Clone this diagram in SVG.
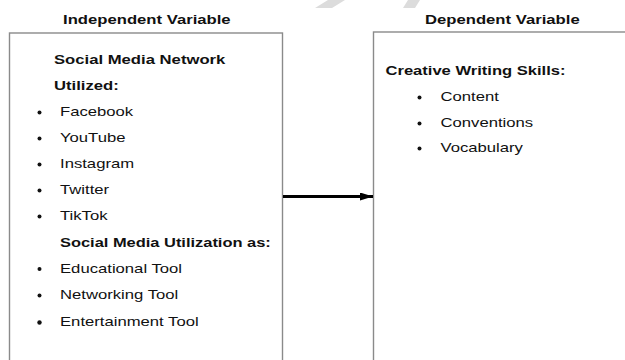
<svg xmlns="http://www.w3.org/2000/svg" width="625" height="360" viewBox="0 0 625 360">
<style>
  text { font-family: "Liberation Sans", Arial, sans-serif; font-size: 12px; fill: #111; }
  .b { font-weight: bold; }
  .box { fill: #fff; stroke: #8a8a8a; stroke-width: 1.4; }
  .dot { fill: #111; }
  .wm { fill: #dcdcdc; }
</style>
<defs>
  <marker id="ah" markerWidth="13" markerHeight="8" refX="13" refY="4" orient="auto" markerUnits="userSpaceOnUse">
    <path d="M0,0 L13,4 L0,8 Z" fill="#000"/>
  </marker>
</defs>
<rect width="625" height="360" fill="#fff"/>
<g id="watermark">
  <polygon class="wm" points="315,8 328,0 345,0 332,8"/>
  <polygon class="wm" points="403,8 408,0 420,0 415,8"/>
</g>
<g id="independent">
  <text class="b" transform="translate(63,24) scale(1.39,1)">Independent Variable</text>
  <rect class="box" x="9.5" y="33" width="273" height="340"/>
  <text class="b" transform="translate(54,64) scale(1.39,1)">Social Media Network</text>
  <text class="b" transform="translate(54,90) scale(1.39,1)">Utilized:</text>
  <circle class="dot" cx="39.5" cy="112.5" r="2"/>
  <text transform="translate(60,116) scale(1.39,1)">Facebook</text>
  <circle class="dot" cx="39.5" cy="138.5" r="2"/>
  <text transform="translate(60,142) scale(1.39,1)">YouTube</text>
  <circle class="dot" cx="39.5" cy="164.5" r="2"/>
  <text transform="translate(60,168) scale(1.39,1)">Instagram</text>
  <circle class="dot" cx="39.5" cy="190.5" r="2"/>
  <text transform="translate(60,194) scale(1.39,1)">Twitter</text>
  <circle class="dot" cx="39.5" cy="216.5" r="2"/>
  <text transform="translate(60,220) scale(1.39,1)">TikTok</text>
  <text class="b" transform="translate(60,246.5) scale(1.37,1)">Social Media Utilization as:</text>
  <circle class="dot" cx="39.5" cy="269" r="2"/>
  <text transform="translate(60,272.5) scale(1.39,1)">Educational Tool</text>
  <circle class="dot" cx="39.5" cy="295.5" r="2"/>
  <text transform="translate(60,299) scale(1.39,1)">Networking Tool</text>
  <circle class="dot" cx="39.5" cy="322.5" r="2.2"/>
  <text transform="translate(60,326) scale(1.39,1)">Entertainment Tool</text>
</g>
<g id="dependent">
  <text class="b" transform="translate(425,24) scale(1.39,1)">Dependent Variable</text>
  <rect class="box" x="373.5" y="32" width="270" height="340"/>
  <text class="b" transform="translate(385.5,75) scale(1.38,1)">Creative Writing Skills:</text>
  <circle class="dot" cx="419.5" cy="97.5" r="2"/>
  <text transform="translate(440.5,101) scale(1.39,1)">Content</text>
  <circle class="dot" cx="419.5" cy="123.5" r="2"/>
  <text transform="translate(440.5,127) scale(1.39,1)">Conventions</text>
  <circle class="dot" cx="419.5" cy="148.5" r="2"/>
  <text transform="translate(440.5,152) scale(1.39,1)">Vocabulary</text>
</g>
<g id="connectors">
  <line x1="283" y1="196.5" x2="373" y2="196.5" stroke="#000" stroke-width="3" marker-end="url(#ah)"/>
</g>
</svg>
